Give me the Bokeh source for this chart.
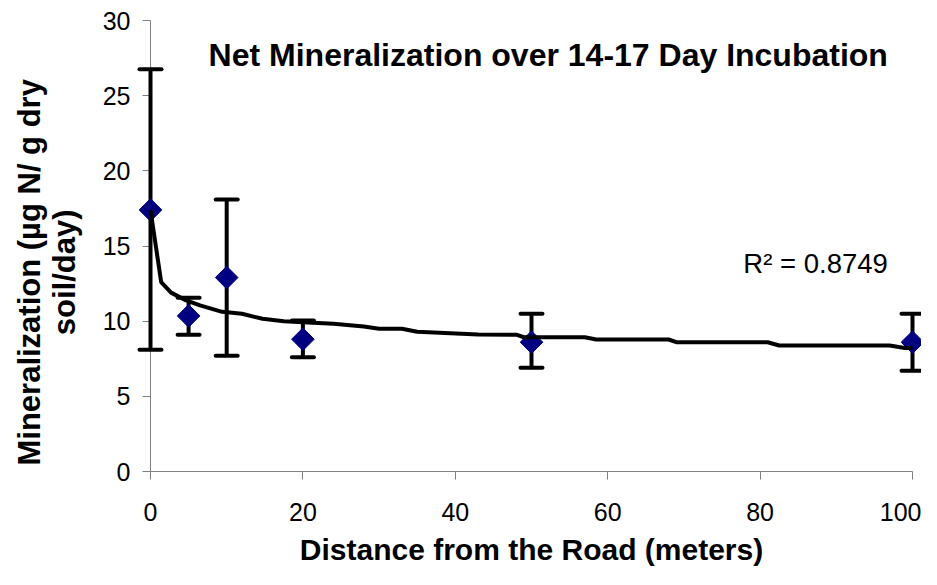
from bokeh.plotting import figure
from bokeh.models import ColumnDataSource, Label, Range1d, FixedTicker
from bokeh.core.properties import value
from bokeh.embed import file_html
from bokeh.resources import INLINE

# ---- data ----
distance = [0, 5, 10, 20, 50, 100]
mineralization = [17.4, 10.35, 12.9, 8.8, 8.6, 8.6]
err_upper = [26.75, 11.55, 18.1, 10.05, 10.5, 10.5]
err_lower = [8.1, 9.1, 7.7, 7.6, 6.9, 6.7]

trend_x = [0, 1.4, 2.7, 4.6, 6.5, 9.4, 12.0, 14.7, 17.5, 20, 24, 28, 30, 33, 35,
           43, 48, 49, 57, 58.5, 68, 69, 81, 82.5, 97, 99, 100]
trend_y = [17.4, 12.6, 11.9, 11.4, 11.05, 10.62, 10.49, 10.16, 10.0, 9.93, 9.83, 9.65, 9.5, 9.49, 9.3,
           9.11, 9.1, 8.93, 8.93, 8.78, 8.78, 8.6, 8.6, 8.38, 8.38, 8.22, 8.22]

x_ticks = [0, 20, 40, 60, 80, 100]
y_ticks = [0, 5, 10, 15, 20, 25, 30]

title_text = "Net Mineralization over 14-17 Day Incubation"
r2_text = "R\u00b2 = 0.8749"
x_title = "Distance from the Road (meters)"
y_title = "Mineralization (\u00b5g N/ g dry\nsoil/day)"

FONT = "Liberation Sans"

p = figure(width=921, height=569, output_backend="svg", toolbar_location=None,
           x_range=Range1d(0, 100), y_range=Range1d(0, 30),
           min_border_left=150, min_border_right=9, min_border_top=20, min_border_bottom=98)
p.outline_line_color = None
p.xgrid.visible = False
p.ygrid.visible = False
p.background_fill_color = "white"
p.border_fill_color = "white"

for ax in (p.xaxis[0], p.yaxis[0]):
    ax.axis_line_color = "#808080"
    ax.axis_line_width = 1
    ax.major_tick_line_color = "#808080"
    ax.major_tick_in = 0
    ax.major_tick_out = 8
    ax.minor_tick_line_color = None
    ax.major_label_text_font = FONT
    ax.major_label_text_font_size = "25px"
    ax.major_label_text_color = "black"
    ax.axis_label_text_font = FONT
    ax.axis_label_text_font_style = "bold"
    ax.axis_label_text_font_size = "30px"
    ax.axis_label_text_color = "black"

p.xaxis.ticker = FixedTicker(ticks=x_ticks)
p.yaxis.ticker = FixedTicker(ticks=y_ticks)
p.xaxis.major_label_standoff = 23
p.yaxis.major_label_standoff = 12
p.xaxis.axis_label = x_title
p.xaxis.axis_label_standoff = 9

src = ColumnDataSource(dict(x=distance, y=mineralization, upper=err_upper, lower=err_lower))

# error bars: vertical stems and caps
p.segment(x0="x", y0="lower", x1="x", y1="upper", source=src,
          line_color="black", line_width=4, level="overlay")
p.scatter("x", "upper", source=src, marker="dash", size=22, line_color="black",
          line_width=4, line_cap="round", level="overlay")
p.scatter("x", "lower", source=src, marker="dash", size=22, line_color="black",
          line_width=4, line_cap="round", level="overlay")

# data points (navy diamonds)
p.scatter("x", "y", source=src, marker="square", size=16, angle=45, angle_units="deg",
          fill_color="#000080", line_color="#000080", level="overlay")

# trend line
p.line(trend_x, trend_y, line_color="black", line_width=4, line_join="round", level="overlay")

p.add_layout(Label(x=52.2, y=27.7, text=title_text, text_align="center", text_baseline="middle",
                   text_font=FONT, text_font_style="bold", text_font_size="32px", text_color="black"))
p.add_layout(Label(x=77.8, y=13.85, text=r2_text, text_align="left", text_baseline="middle",
                   text_font=FONT, text_font_size="27.5px", text_color="black"))

# y-axis title (two centred lines, rotated), placed left of the axis
p.text(x=[-13.6], y=[13.25], text=[y_title], angle=90, angle_units="deg",
       text_align="center", text_baseline="middle", text_line_height=1.0,
       text_font=value(FONT), text_font_style="bold", text_font_size="31px",
       text_color="black", level="overlay")

open("out.html", "w").write(file_html(p, INLINE))
